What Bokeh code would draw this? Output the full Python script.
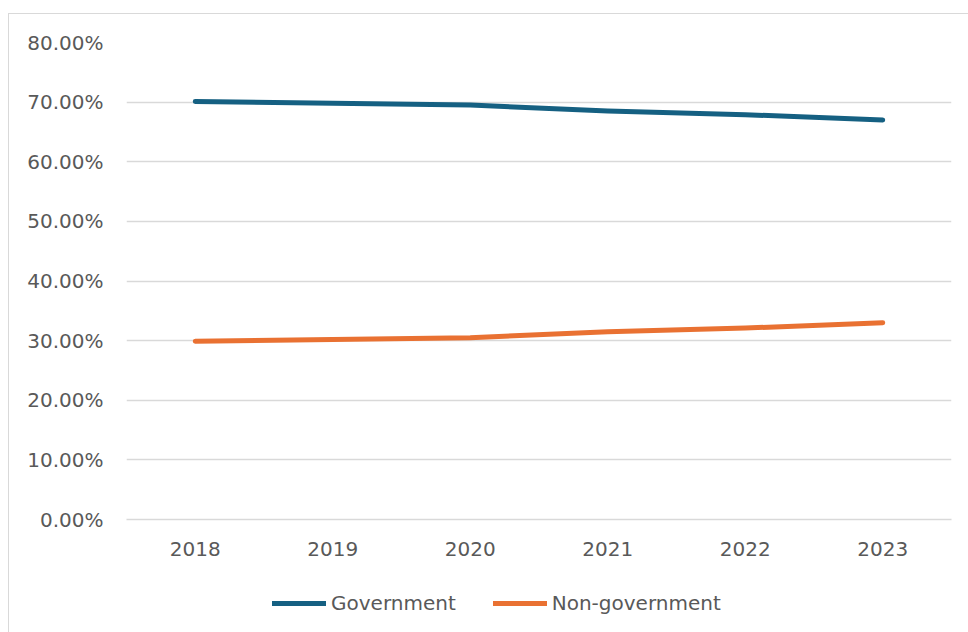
from bokeh.plotting import figure
from bokeh.layouts import column
from bokeh.models import FactorRange, Range1d, FixedTicker, PrintfTickFormatter, Legend, LegendItem
from bokeh.embed import file_html
from bokeh.resources import INLINE

years = ["2018", "2019", "2020", "2021", "2022", "2023"]
government = [70.1, 69.8, 69.5, 68.5, 67.9, 67.0]
non_government = [29.9, 30.2, 30.5, 31.5, 32.1, 33.0]
y_ticks = [0, 10, 20, 30, 40, 50, 60, 70, 80]
series_names = ["Government", "Non-government"]
series_values = [government, non_government]

FONT = "DejaVu Sans"
TXT = "#595959"
GRID = "#D9D9D9"
COLORS = ["#156082", "#E97132"]

p = figure(width=960, height=561, x_range=FactorRange(*years), y_range=Range1d(0, 80),
           output_backend="svg", toolbar_location=None,
           min_border_left=117, min_border_right=18, min_border_top=28, min_border_bottom=56)
p.outline_line_color = None
p.background_fill_color = "white"
p.border_fill_color = "white"

p.xgrid.grid_line_color = None
p.ygrid.grid_line_color = GRID
p.ygrid.grid_line_width = 1.3
p.yaxis.ticker = FixedTicker(ticks=y_ticks)
p.yaxis.formatter = PrintfTickFormatter(format="%.2f%%")
p.yaxis.axis_line_color = None
p.yaxis.major_tick_line_color = None
p.yaxis.minor_tick_line_color = None
p.yaxis.major_label_standoff = 17
p.xaxis.axis_line_color = GRID
p.xaxis.axis_line_width = 1.3
p.xaxis.major_tick_line_color = None
p.xaxis.minor_tick_line_color = None
p.xaxis.major_label_standoff = 16
for ax in (p.xaxis[0], p.yaxis[0]):
    ax.major_label_text_font = FONT
    ax.major_label_text_font_size = "20px"
    ax.major_label_text_color = TXT

for vals, c in zip(series_values, COLORS):
    p.line(years, vals, line_color=c, line_width=5, line_cap="round", line_join="round")

# legend strip below the chart (its series lie outside its visible range)
p2 = figure(width=960, height=57, x_range=FactorRange(*years), y_range=Range1d(200, 300),
            output_backend="svg", toolbar_location=None,
            x_axis_type=None, y_axis_type=None, min_border=0)
p2.outline_line_color = None
p2.xgrid.grid_line_color = None
p2.ygrid.grid_line_color = None
p2.border_fill_color = "white"
items = []
for name, vals, c in zip(series_names, series_values, COLORS):
    r = p2.line(years, vals, line_color=c, line_width=5, line_cap="round")
    items.append(LegendItem(label=name, renderers=[r]))
legend = Legend(items=items, orientation="horizontal", location=(146, 17),
                glyph_width=54, glyph_height=20, label_standoff=5, spacing=37,
                padding=0, margin=0, border_line_color=None, background_fill_alpha=0,
                label_text_font=FONT, label_text_font_size="20px", label_text_color=TXT)
p2.add_layout(legend, "center")

layout = column(p, p2, spacing=0)
layout.margin = (13, 0, 0, 8)
layout.styles = {"border-left": f"1px solid {GRID}", "border-top": f"1px solid {GRID}"}

open("out.html", "w").write(file_html(layout, INLINE))
